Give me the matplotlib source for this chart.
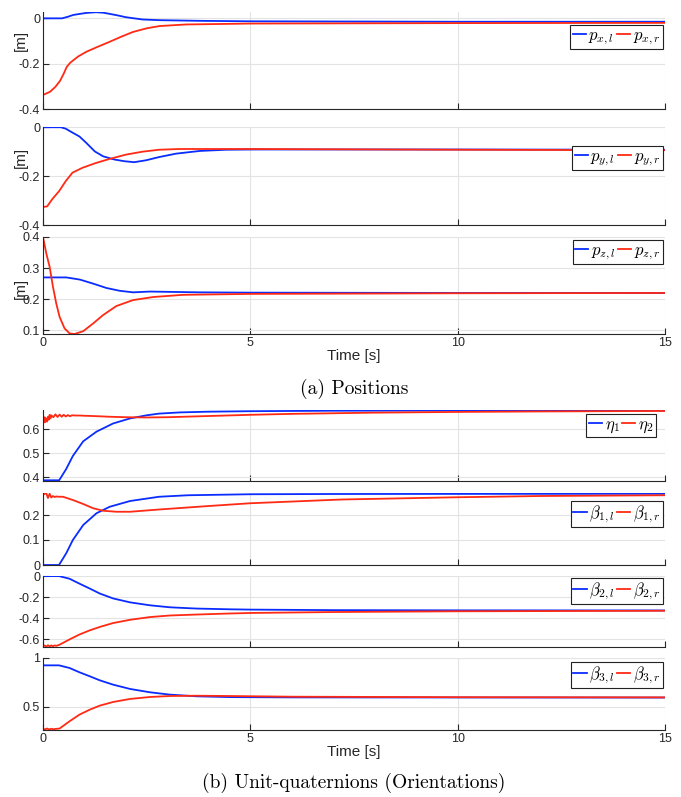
import matplotlib
matplotlib.use("Agg")
import matplotlib.pyplot as plt
from matplotlib.ticker import FormatStrFormatter

plt.rcParams['font.family'] = ['Liberation Sans', 'DejaVu Sans']
plt.rcParams['mathtext.fontset'] = 'cm'
plt.rcParams['axes.unicode_minus'] = False

BLUE = '#0a2cff'
RED = '#ff2a14'

# ---- positions (a) ----
t_px_l = [0, 0.46, 0.6, 0.73, 0.9, 1.05, 1.28, 1.45, 1.6, 1.8, 2.0, 2.2, 2.4, 2.8, 3.8, 5, 10, 15]
px_l = [0, 0, 0.007, 0.015, 0.02, 0.024, 0.027, 0.025, 0.02, 0.013, 0.005, 0.0, -0.005,
        -0.008, -0.011, -0.013, -0.015, -0.015]
t_px_r = [0, 0.17, 0.3, 0.41, 0.5, 0.57, 0.65, 0.73, 0.85, 1.04, 1.3, 1.6, 1.9, 2.17, 2.5,
          2.81, 3.45, 5, 10, 15]
px_r = [-0.338, -0.324, -0.302, -0.276, -0.244, -0.215, -0.197, -0.185, -0.168, -0.148,
        -0.127, -0.104, -0.08, -0.06, -0.044, -0.034, -0.027, -0.023, -0.021, -0.02]

t_py_l = [0, 0.43, 0.55, 0.67, 0.88, 1.05, 1.25, 1.45, 1.72, 1.96, 2.2, 2.49, 2.8, 3.21,
          3.78, 4.42, 5.07, 10, 15]
py_l = [0, 0, -0.006, -0.018, -0.038, -0.065, -0.099, -0.119, -0.132, -0.139, -0.143,
        -0.135, -0.122, -0.108, -0.097, -0.092, -0.091, -0.091, -0.092]
t_py_r = [0, 0.1, 0.22, 0.39, 0.55, 0.71, 0.95, 1.28, 1.6, 2.0, 2.4, 2.8, 3.3, 5, 10, 15]
py_r = [-0.326, -0.324, -0.295, -0.261, -0.22, -0.186, -0.166, -0.146, -0.13, -0.112, -0.1,
        -0.092, -0.089, -0.089, -0.092, -0.094]

t_pz_l = [0, 0.56, 0.89, 1.21, 1.53, 1.85, 2.17, 2.58, 3.78, 5, 10, 15]
pz_l = [0.27, 0.27, 0.263, 0.25, 0.236, 0.227, 0.222, 0.2245, 0.222, 0.221, 0.22, 0.22]
t_pz_r = [0, 0.08, 0.16, 0.24, 0.32, 0.4, 0.52, 0.64, 0.76, 0.97, 1.21, 1.45, 1.77, 2.17,
          2.66, 3.38, 5, 10, 15]
pz_r = [0.4, 0.347, 0.304, 0.24, 0.186, 0.143, 0.106, 0.09, 0.088, 0.097, 0.122, 0.149,
        0.178, 0.197, 0.207, 0.214, 0.217, 0.219, 0.22]

# ---- unit quaternions (b) ----
t_eta1 = [0, 0.39, 0.56, 0.72, 0.97, 1.29, 1.69, 2.1, 2.5, 2.8, 3.3, 4, 5, 7, 10, 15]
eta1 = [0.388, 0.388, 0.435, 0.489, 0.55, 0.59, 0.624, 0.645, 0.658, 0.665, 0.670, 0.673,
        0.675, 0.677, 0.678, 0.678]
t_eta2 = [0, 0.02, 0.04, 0.06, 0.08, 0.10, 0.12, 0.14, 0.16, 0.18, 0.2, 0.25, 0.3, 0.35,
          0.4, 0.45, 0.5, 0.55, 0.6, 0.65, 0.7, 0.8, 0.9, 1.0, 1.2, 1.6, 2.0, 2.5, 3, 4, 5,
          6, 8, 10, 12, 15]
eta2 = [0.638, 0.628, 0.650, 0.630, 0.645, 0.632, 0.652, 0.640, 0.660, 0.645, 0.658, 0.650,
        0.662, 0.651, 0.661, 0.652, 0.660, 0.653, 0.659, 0.654, 0.658, 0.657, 0.657, 0.656,
        0.655, 0.652, 0.650, 0.649, 0.650, 0.655, 0.660, 0.664, 0.669, 0.672, 0.674, 0.676]

t_b1l = [0, 0.386, 0.56, 0.72, 0.97, 1.29, 1.61, 2.1, 2.8, 3.5, 5, 7, 15]
b1l = [0, 0, 0.047, 0.1, 0.16, 0.207, 0.233, 0.256, 0.273, 0.279, 0.283, 0.284, 0.285]
t_b1r = [0, 0.04, 0.08, 0.12, 0.16, 0.2, 0.24, 0.28, 0.32, 0.4, 0.48, 0.72, 0.97, 1.21,
         1.45, 1.77, 2.1, 2.8, 4, 5, 7.2, 10, 12, 15]
b1r = [0.280, 0.285, 0.287, 0.268, 0.285, 0.270, 0.276, 0.272, 0.274, 0.273, 0.273, 0.26,
       0.244, 0.227, 0.217, 0.213, 0.213, 0.222, 0.236, 0.247, 0.262, 0.271, 0.276, 0.279]

t_b2l = [0, 0.386, 0.64, 0.88, 1.13, 1.37, 1.69, 2.1, 2.58, 3.06, 3.7, 4.5, 5, 7, 10, 15]
b2l = [0, 0, -0.025, -0.072, -0.119, -0.166, -0.2125, -0.25, -0.278, -0.297, -0.309, -0.316,
       -0.319, -0.324, -0.326, -0.327]
t_b2r = [0, 0.04, 0.08, 0.12, 0.16, 0.2, 0.24, 0.28, 0.32, 0.39, 0.64, 0.88, 1.13, 1.37,
         1.69, 2.1, 2.58, 3.06, 3.7, 4.5, 5, 7, 10, 15]
b2r = [-0.668, -0.66, -0.672, -0.658, -0.670, -0.66, -0.668, -0.66, -0.664, -0.655, -0.603,
       -0.556, -0.516, -0.484, -0.447, -0.416, -0.39, -0.375, -0.366, -0.356, -0.351, -0.342,
       -0.335, -0.330]

t_b3l = [0, 0.386, 0.64, 0.88, 1.13, 1.37, 1.69, 2.1, 2.58, 3.06, 3.7, 4.5, 6, 10, 15]
b3l = [0.925, 0.925, 0.898, 0.854, 0.813, 0.772, 0.728, 0.684, 0.65, 0.626, 0.609, 0.601,
       0.598, 0.597, 0.596]
t_b3r = [0, 0.05, 0.1, 0.15, 0.2, 0.25, 0.3, 0.4, 0.64, 0.88, 1.13, 1.37, 1.69, 2.1, 2.58,
         3.06, 3.7, 4.5, 6, 10, 15]
b3r = [0.275, 0.272, 0.28, 0.27, 0.278, 0.272, 0.276, 0.28, 0.354, 0.422, 0.473, 0.514,
       0.551, 0.582, 0.602, 0.612, 0.615, 0.612, 0.605, 0.6, 0.598]

panels = [
    (t_px_l, px_l, t_px_r, px_r, r'$p_{x,l}$', r'$p_{x,r}$', (-0.4, 0.028), [-0.4, -0.2, 0]),
    (t_py_l, py_l, t_py_r, py_r, r'$p_{y,l}$', r'$p_{y,r}$', (-0.4, 0.001), [-0.4, -0.2, 0]),
    (t_pz_l, pz_l, t_pz_r, pz_r, r'$p_{z,l}$', r'$p_{z,r}$', (0.088, 0.4), [0.1, 0.2, 0.3, 0.4]),
    (t_eta1, eta1, t_eta2, eta2, r'$\eta_1$', r'$\eta_2$', (0.385, 0.68), [0.4, 0.5, 0.6]),
    (t_b1l, b1l, t_b1r, b1r, r'$\beta_{1,l}$', r'$\beta_{1,r}$', (0, 0.288), [0, 0.1, 0.2]),
    (t_b2l, b2l, t_b2r, b2r, r'$\beta_{2,l}$', r'$\beta_{2,r}$', (-0.675, 0.001), [-0.6, -0.4, -0.2, 0]),
    (t_b3l, b3l, t_b3r, b3r, r'$\beta_{3,l}$', r'$\beta_{3,r}$', (0.265, 1.0), [0.5, 1]),
]

# axes extents in pixels (top, bottom) and legend placement (top offset, right offset)
W, H = 681, 797
boxes = [(12, 109), (127, 225), (237, 334), (410, 481), (493, 565), (576, 647), (658, 730)]
leg_off = [(13, 2), (19, 2), (3, 2), (4, 9), (8, 2), (2, 2), (4, 2)]
ylabel_y = [40, 157, 288]  # pixel centre of the "[m]" labels
x_left, x_right = 43, 665

fig = plt.figure(figsize=(W / 100, H / 100), dpi=100)

for i, (ta, ya, tb, yb, la, lb, ylim, yticks) in enumerate(panels):
    top, bot = boxes[i]
    h = bot - top
    ax = fig.add_axes([x_left / W, 1 - bot / H, (x_right - x_left) / W, h / H])
    ax.plot(ta, ya, color=BLUE, lw=1.3, label=la)
    ax.plot(tb, yb, color=RED, lw=1.3, label=lb)
    ax.set_xlim(0, 15)
    ax.set_ylim(*ylim)
    ax.set_xticks([0, 5, 10, 15])
    ax.set_yticks(yticks)
    ax.yaxis.set_major_formatter(FormatStrFormatter('%g'))
    ax.grid(True, color='#e3e3e3', lw=0.8)
    ax.set_axisbelow(True)
    for s in ['top', 'right']:
        ax.spines[s].set_visible(False)
    for s in ['left', 'bottom']:
        ax.spines[s].set_color('#262626')
        ax.spines[s].set_linewidth(0.8)
    ax.tick_params(direction='in', length=4.5, width=0.8, colors='#262626',
                   labelsize=9, pad=2)
    if i in (2, 6):
        ax.set_xlabel('Time [s]', fontsize=11, color='#262626', labelpad=0)
    else:
        ax.tick_params(labelbottom=False)
    if i < 3:
        ax.set_ylabel('[m]', fontsize=11, color='#262626')
        ax.yaxis.set_label_coords(-15 / (x_right - x_left), (bot - ylabel_y[i]) / h)
    dy, dx = leg_off[i]
    leg = ax.legend(loc='upper right', ncol=2, fontsize=12,
                    bbox_to_anchor=(1 - dx / (x_right - x_left), 1 - dy / h),
                    borderaxespad=0, handlelength=0.8, handletextpad=0.15,
                    columnspacing=0.15, borderpad=0.15, fancybox=False,
                    framealpha=1, edgecolor='#222222')
    leg.get_frame().set_linewidth(0.8)

fig.text(354 / W, 1 - 389 / H, '(a) Positions', ha='center', va='center',
         fontsize=14, family='cmr10')
fig.text(354 / W, 1 - 783 / H, '(b) Unit-quaternions (Orientations)', ha='center',
         va='center', fontsize=14, family='cmr10')

fig.savefig('out.png', dpi=100)
